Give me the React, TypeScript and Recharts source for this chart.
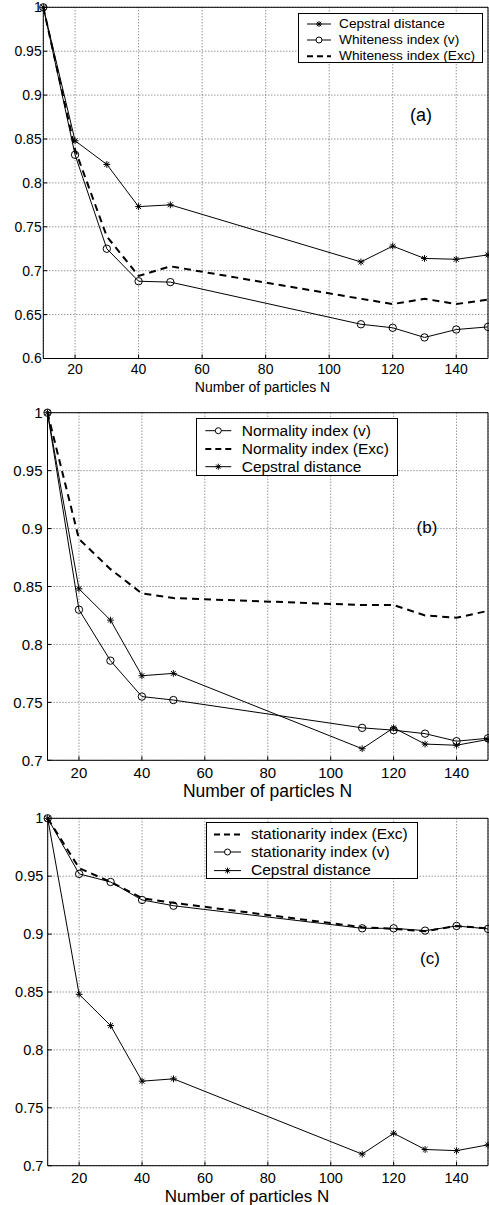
import React from 'react';
import { LineChart, Line, XAxis, YAxis, CartesianGrid, Legend } from 'recharts';

// ---------- data ----------
const particles = [10, 20, 30, 40, 50, 110, 120, 130, 140, 150];
const cepstralDistance = [1, 0.848, 0.821, 0.773, 0.775, 0.71, 0.728, 0.714, 0.713, 0.718];
const whitenessV = [1, 0.832, 0.725, 0.688, 0.687, 0.639, 0.635, 0.624, 0.633, 0.636];
const whitenessExc = [1, 0.838, 0.739, 0.694, 0.705, 0.668, 0.662, 0.668, 0.662, 0.667];
const normalityV = [1, 0.83, 0.786, 0.755, 0.752, 0.728, 0.726, 0.723, 0.7165, 0.719];
const normalityExc = [1, 0.891, 0.865, 0.844, 0.84, 0.834, 0.834, 0.825, 0.823, 0.829];
const stationarityV = [1, 0.952, 0.945, 0.9295, 0.9245, 0.905, 0.905, 0.903, 0.907, 0.9045];
const stationarityExc = [1, 0.957, 0.945, 0.931, 0.927, 0.906, 0.9045, 0.9025, 0.907, 0.905];

const xTicks = [20, 40, 60, 80, 100, 120, 140];
const yTicksA = [0.6, 0.65, 0.7, 0.75, 0.8, 0.85, 0.9, 0.95, 1];
const yTicksBC = [0.7, 0.75, 0.8, 0.85, 0.9, 0.95, 1];

const dataA = particles.map((n, i) => ({ n, cep: cepstralDistance[i], wv: whitenessV[i], we: whitenessExc[i] }));
const dataB = particles.map((n, i) => ({ n, cep: cepstralDistance[i], nv: normalityV[i], ne: normalityExc[i] }));
const dataC = particles.map((n, i) => ({ n, cep: cepstralDistance[i], sv: stationarityV[i], se: stationarityExc[i] }));

const FONT = '"Liberation Sans", Arial, Helvetica, sans-serif';

type Kind = 'star' | 'circle' | 'dash';
type Series = { key: string; name: string; kind: Kind };

const seriesA: Series[] = [
  { key: 'cep', name: 'Cepstral distance', kind: 'star' },
  { key: 'wv', name: 'Whiteness index (v)', kind: 'circle' },
  { key: 'we', name: 'Whiteness index (Exc)', kind: 'dash' },
];
const seriesB: Series[] = [
  { key: 'nv', name: 'Normality index (v)', kind: 'circle' },
  { key: 'ne', name: 'Normality index (Exc)', kind: 'dash' },
  { key: 'cep', name: 'Cepstral distance', kind: 'star' },
];
const seriesC: Series[] = [
  { key: 'se', name: 'stationarity index (Exc)', kind: 'dash' },
  { key: 'sv', name: 'stationarity index (v)', kind: 'circle' },
  { key: 'cep', name: 'Cepstral distance', kind: 'star' },
];

function starShape(cx: number, cy: number, r: number, key: string) {
  const d = r * 0.72;
  return (
    <g key={key} stroke="#000" strokeWidth={1}>
      <line x1={cx - r} y1={cy} x2={cx + r} y2={cy} />
      <line x1={cx} y1={cy - r} x2={cx} y2={cy + r} />
      <line x1={cx - d} y1={cy - d} x2={cx + d} y2={cy + d} />
      <line x1={cx - d} y1={cy + d} x2={cx + d} y2={cy - d} />
    </g>
  );
}

const StarDot = (props: any) => {
  const { cx, cy, index } = props;
  if (cx == null || cy == null) return <g key={`sx-${index}`} />;
  return starShape(cx, cy, 3.4, `st-${index}`);
};

type LegendCfg = {
  left: number; top: number; width: number; height: number;
  rows: number[]; s0: number; s1: number; tx: number; fontSize: number;
};

function LegendBox({ items, cfg }: { items: Series[]; cfg: LegendCfg }) {
  return (
    <div
      style={{
        position: 'relative', width: cfg.width, height: cfg.height, boxSizing: 'border-box',
        border: '1px solid #000', background: '#fff', fontFamily: FONT, fontSize: cfg.fontSize, color: '#000',
      }}
    >
      {items.map((it, i) => {
        const cy = cfg.rows[i];
        const mid = (cfg.s0 + cfg.s1) / 2;
        return (
          <div key={it.key}>
            <svg style={{ position: 'absolute', left: 0, top: 0, overflow: 'visible' }} width={1} height={1}>
              {it.kind === 'dash' ? (
                <line x1={cfg.s0} y1={cy} x2={cfg.s1} y2={cy} stroke="#000" strokeWidth={2} strokeDasharray="6 4" />
              ) : (
                <line x1={cfg.s0} y1={cy} x2={cfg.s1} y2={cy} stroke="#000" strokeWidth={1} />
              )}
              {it.kind === 'circle' && <circle cx={mid} cy={cy} r={3} fill="#fff" stroke="#000" strokeWidth={1} />}
              {it.kind === 'star' && starShape(mid, cy, 3, 'ls')}
            </svg>
            <div
              style={{
                position: 'absolute', left: cfg.tx, top: cy, transform: 'translateY(-50%)',
                lineHeight: 1, whiteSpace: 'nowrap',
              }}
            >
              {it.name}
            </div>
          </div>
        );
      })}
    </div>
  );
}

type PanelCfg = {
  top: number; height: number; yWidth: number; mTop: number; mBottom: number;
  tickFont: number; xTickMargin: number; yTickMargin: number;
  yTicks: number[]; yDomain: [number, number];
  data: any[]; series: Series[]; legend: LegendCfg;
};

function Panel({ cfg }: { cfg: PanelCfg }) {
  const tickStyle = { fill: '#000', fontSize: cfg.tickFont, fontFamily: FONT };
  return (
    <div style={{ position: 'absolute', left: 0, top: cfg.top }}>
      <LineChart
        width={489}
        height={cfg.height}
        data={cfg.data}
        margin={{ top: cfg.mTop, right: 0, bottom: cfg.mBottom, left: 0 }}
      >
        <CartesianGrid stroke="#666" strokeDasharray="1 2" />
        <XAxis
          dataKey="n"
          type="number"
          domain={[10, 150]}
          ticks={xTicks}
          interval={0}
          height={30}
          stroke="#000"
          tickSize={-4}
          tickMargin={cfg.xTickMargin}
          tick={tickStyle}
        />
        <XAxis
          xAxisId="top"
          orientation="top"
          type="number"
          domain={[10, 150]}
          ticks={xTicks}
          interval={0}
          height={1}
          stroke="#000"
          tickSize={-4}
          tick={false}
        />
        <YAxis
          type="number"
          domain={cfg.yDomain}
          ticks={cfg.yTicks}
          interval={0}
          width={cfg.yWidth}
          stroke="#000"
          tickSize={-4}
          tickMargin={cfg.yTickMargin}
          tick={tickStyle}
          tickFormatter={(v: number) => String(v)}
        />
        <YAxis
          yAxisId="right"
          orientation="right"
          type="number"
          domain={cfg.yDomain}
          ticks={cfg.yTicks}
          interval={0}
          width={1}
          stroke="#000"
          tickSize={-4}
          tick={false}
        />
        {cfg.series.map((s) => (
          <Line
            key={s.key}
            dataKey={s.key}
            name={s.name}
            type="linear"
            stroke="#000"
            strokeWidth={s.kind === 'dash' ? 2 : 1}
            strokeDasharray={s.kind === 'dash' ? '7 5' : undefined}
            dot={
              s.kind === 'star'
                ? StarDot
                : s.kind === 'circle'
                ? { r: 3.7, fill: 'none', stroke: '#000', strokeWidth: 1 }
                : false
            }
            activeDot={false}
            isAnimationActive={false}
          />
        ))}
        <Legend
          layout="vertical"
          align="center"
          verticalAlign="middle"
          wrapperStyle={{ left: cfg.legend.left, top: cfg.legend.top, width: cfg.legend.width, height: cfg.legend.height }}
          content={() => <LegendBox items={cfg.series} cfg={cfg.legend} />}
        />
      </LineChart>
    </div>
  );
}

const panelA: PanelCfg = {
  top: 0, height: 400, yWidth: 43.3, mTop: 6.3, mBottom: 11.5,
  tickFont: 14, xTickMargin: 10, yTickMargin: 5.6,
  yTicks: yTicksA, yDomain: [0.6, 1], data: dataA, series: seriesA,
  legend: { left: 298, top: 12.7, width: 185, height: 50.6, rows: [10, 26, 42.3], s0: 8, s1: 32, tx: 40, fontSize: 13.7 },
};
const panelB: PanelCfg = {
  top: 400, height: 405, yWidth: 47.5, mTop: 11.7, mBottom: 14.7,
  tickFont: 15, xTickMargin: 11.5, yTickMargin: 9,
  yTicks: yTicksBC, yDomain: [0.7, 1], data: dataB, series: seriesB,
  legend: { left: 195.7, top: 18.3, width: 202.6, height: 57.7, rows: [11.7, 30, 47.7], s0: 8.3, s1: 34.3, tx: 45, fontSize: 15.5 },
};
const panelC: PanelCfg = {
  top: 805, height: 400, yWidth: 47.7, mTop: 12.3, mBottom: 9.3,
  tickFont: 14.5, xTickMargin: 11.3, yTickMargin: 8.4,
  yTicks: yTicksBC, yDomain: [0.7, 1], data: dataC, series: seriesC,
  legend: { left: 206, top: 16.7, width: 212.3, height: 57.6, rows: [11.6, 29, 47.6], s0: 7, s1: 34, tx: 44, fontSize: 15.5 },
};

const texts = [
  { t: '(a)', x: 421, y: 115, f: 18 },
  { t: '(b)', x: 427, y: 526.7, f: 17 },
  { t: '(c)', x: 430, y: 958, f: 17 },
  { t: 'Number of particles N', x: 262.5, y: 386.5, f: 14 },
  { t: 'Number of particles N', x: 267.5, y: 791.5, f: 17.5 },
  { t: 'Number of particles N', x: 247, y: 1196.3, f: 17 },
];

export default function App() {
  return (
    <div style={{ position: 'absolute', left: 0, top: 0, width: 489, height: 1205, background: '#fff', overflow: 'hidden' }}>
      <Panel cfg={panelA} />
      <Panel cfg={panelB} />
      <Panel cfg={panelC} />
      {texts.map((t, i) => (
        <div
          key={i}
          style={{
            position: 'absolute', left: t.x, top: t.y, transform: 'translate(-50%, -50%)',
            fontFamily: FONT, fontSize: t.f, lineHeight: 1, whiteSpace: 'nowrap', color: '#000',
          }}
        >
          {t.t}
        </div>
      ))}
    </div>
  );
}
